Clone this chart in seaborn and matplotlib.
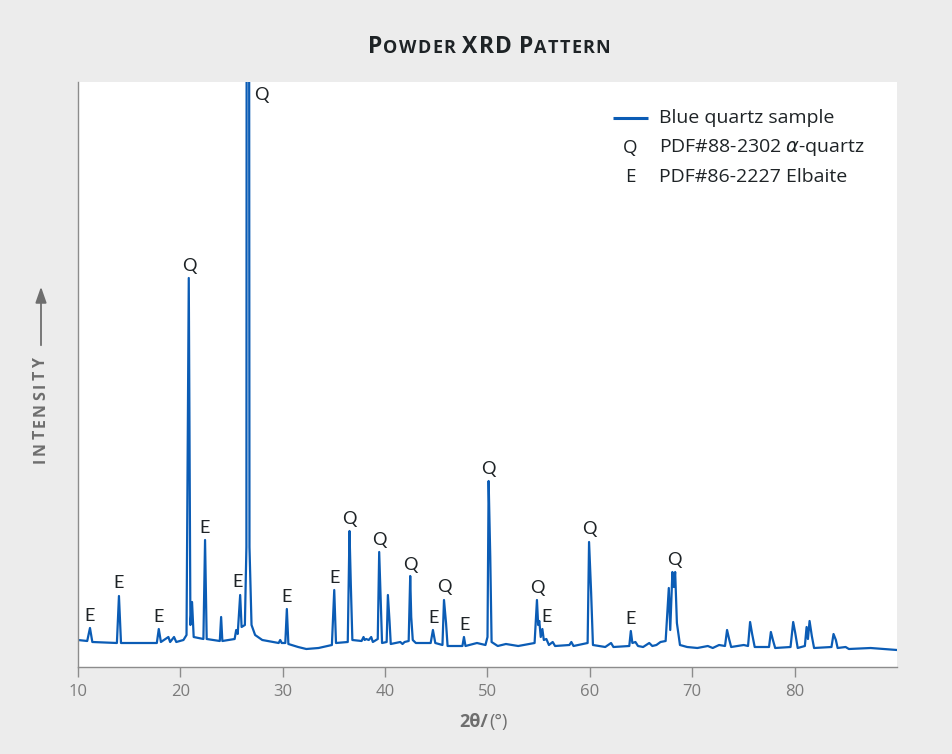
import matplotlib
matplotlib.use("Agg")
import matplotlib.pyplot as plt
import seaborn as sns
import pandas as pd

# ---------------- data ----------------
two_theta = [
    10.0, 10.9, 11.17, 11.4, 13.8, 14.0, 14.2, 17.7, 17.89, 18.1, 18.83, 19.0, 19.38, 19.6,
    20.3, 20.6, 20.82, 20.98, 21.14, 21.3, 22.25, 22.41, 22.57, 23.85, 23.98, 24.1,
    25.3, 25.45, 25.6, 25.84, 25.98, 26.3, 26.45, 26.53, 26.63, 26.75, 26.95, 27.3, 28.0,
    29.6, 29.75, 29.9, 30.25, 30.4, 30.55, 31.5, 32.3, 33.5, 34.8, 35.03, 35.2,
    36.35, 36.52, 36.65, 36.8, 37.7, 37.89, 38.0, 38.15, 38.4, 38.64, 38.8,
    39.28, 39.42, 39.55, 39.7, 40.15, 40.27, 40.43, 40.55, 41.48, 41.7, 41.9,
    42.3, 42.45, 42.55, 42.7, 43.0, 44.45, 44.67, 44.9, 45.6, 45.75, 45.95, 46.1,
    47.55, 47.7, 47.85, 48.97, 49.8, 50.0, 50.11, 50.27, 50.4, 51.0, 51.8, 53.0,
    54.6, 54.83, 54.95, 55.06, 55.2, 55.36, 55.5, 55.75, 56.0, 56.37, 56.6,
    58.0, 58.19, 58.4, 59.78, 59.92, 60.12, 60.3, 61.5, 62.07, 62.3,
    63.85, 64.0, 64.15, 64.45, 64.7, 65.2, 65.8, 66.1, 66.5, 66.9, 67.4,
    67.71, 67.85, 68.06, 68.2, 68.33, 68.5, 68.8, 69.5, 70.5, 71.52, 72.0, 72.62,
    73.2, 73.4, 73.6, 73.8, 75.03, 75.45, 75.65, 75.85, 76.1, 77.5, 77.68, 77.88, 78.1,
    79.6, 79.86, 80.06, 80.3, 81.0, 81.17, 81.3, 81.46, 81.68, 81.9,
    83.6, 83.8, 84.03, 84.2, 84.98, 85.3, 87.42, 90.0,
]
intensity = [
    27, 26, 39, 25, 24, 71, 24, 24, 38, 25, 30, 25, 30, 25,
    27, 32, 389, 42, 65, 30, 28, 127, 28, 26, 50, 26,
    28, 37, 33, 72, 40, 42, 120, 2000, 2000, 120, 42, 32, 27,
    24, 27, 24, 24, 58, 23, 20, 18, 19, 22, 77, 24,
    25, 136, 82, 27, 26, 30, 27, 28, 27, 30, 25,
    28, 115, 72, 24, 25, 72, 46, 23, 25, 23, 25,
    26, 91, 50, 27, 24, 24, 37, 24, 22, 67, 44, 21,
    21, 30, 21, 24, 22, 30, 186, 110, 25, 21, 23, 21,
    24, 67, 42, 46, 30, 38, 27, 28, 22, 25, 21,
    22, 25, 21, 24, 125, 75, 22, 20, 24, 20,
    21, 36, 24, 25, 21, 20, 24, 21, 22, 25, 26,
    79, 37, 95, 80, 95, 44, 22, 20, 19, 21, 19, 22,
    21, 37, 28, 20, 22, 21, 45, 33, 20, 20, 35, 27, 19,
    20, 45, 34, 19, 21, 40, 28, 46, 31, 19,
    20, 33, 27, 19, 20, 18, 19, 17,
]

peak_label_x = [11.17, 14.0, 17.85, 20.85, 22.41, 25.54, 27.95, 30.33, 35.02, 36.49,
                39.42, 42.45, 44.7, 45.78, 47.73, 50.08, 54.87, 55.75, 59.95, 63.96, 68.26]
peak_label_y = [51, 84, 50, 401, 139, 85, 572, 70, 89, 148,
                127, 102, 49, 80, 42, 198, 79, 50, 138, 48, 107]
peak_label_text = ["E", "E", "E", "Q", "E", "E", "Q", "E", "E", "Q",
                   "Q", "Q", "E", "Q", "E", "Q", "Q", "E", "Q", "E", "Q"]

x_ticks = [10, 20, 30, 40, 50, 60, 70, 80]
legend_labels = ["Blue quartz sample", r"PDF#88-2302 $\alpha$-quartz", "PDF#86-2227 Elbaite"]
legend_symbols = ["", "Q", "E"]

# ---------------- style ----------------
W, H = 953, 754
BG = "#ececec"
LINE = "#0b5cb5"
GRAY = "#7b7b7b"
LABGRAY = "#6e6e6e"
DARK = "#1e2326"
SANS = ["Open Sans", "DejaVu Sans"]

sns.set_theme(style="white")
plt.rcParams["font.family"] = SANS
plt.rcParams["mathtext.fontset"] = "dejavusans"

fig = plt.figure(figsize=(W / 100, H / 100), dpi=100, facecolor=BG)
ax = fig.add_axes([78 / W, 1 - 667 / H, (897 - 78) / W, (667 - 82) / H])
ax.set_facecolor("white")

df = pd.DataFrame({"two_theta": two_theta, "intensity": intensity})
sns.lineplot(data=df, x="two_theta", y="intensity", ax=ax, color=LINE,
             linewidth=1.6, sort=False, estimator=None)

ax.set_xlim(10, 90)
ax.set_ylim(0, 585)
ax.set_xticks(x_ticks)
ax.set_yticks([])
ax.set_xlabel("")
ax.set_ylabel("")
for s in ["top", "right"]:
    ax.spines[s].set_visible(False)
for s in ["left", "bottom"]:
    ax.spines[s].set_color("#8c8c8c")
    ax.spines[s].set_linewidth(1.0)
ax.tick_params(axis="x", direction="out", length=7, width=1, color="#8c8c8c",
               labelcolor=GRAY, labelsize=12, pad=5, bottom=True)

for x, y, t in zip(peak_label_x, peak_label_y, peak_label_text):
    ax.text(x, y, t, ha="center", va="center", fontsize=13, color=DARK,
            family=["Lato", "DejaVu Sans"])

# legend (manual, matching the reference layout)
leg_rows_y = [1 - (118 - 82) / 585, 1 - (148 - 82) / 585, 1 - (177 - 82) / 585]
def axx(px):
    return (px - 78) / (897 - 78)
ax.plot([axx(613), axx(648)], [leg_rows_y[0]] * 2, transform=ax.transAxes,
        color=LINE, linewidth=2.2, solid_capstyle="butt")
for i, (lab, sym) in enumerate(zip(legend_labels, legend_symbols)):
    if sym:
        ax.text(axx(630), leg_rows_y[i], sym, transform=ax.transAxes, ha="center",
                va="center", fontsize=13.5, color=DARK)
    ax.text(axx(659), leg_rows_y[i], lab, transform=ax.transAxes, ha="left",
            va="center", fontsize=14, color=DARK)

# x-axis label: bold "2θ/" + regular "(°)"
fig.text(488 / W, 1 - 722 / H, "2θ/", ha="right", va="center", fontsize=13,
         fontweight="bold", color=LABGRAY)
fig.text(489 / W, 1 - 722 / H, "(°)", ha="left", va="center", fontsize=13,
         color=LABGRAY)

renderer = fig.canvas.get_renderer()

# y-axis label (letter-spaced, rotated) with arrow
ylab = "INTENSITY"
ylab_w = []
for ch in ylab:
    tmp = fig.text(0, 0, ch, fontsize=11.5, fontweight="bold")
    ylab_w.append(tmp.get_window_extent(renderer=renderer).width)
    tmp.remove()
span_px = 463 - 358
gap = (span_px - sum(ylab_w)) / (len(ylab) - 1)
ycur = H - 463
for ch, w in zip(ylab, ylab_w):
    fig.text(41 / W, (ycur + w / 2) / H, ch, rotation=90, ha="center", va="center",
             fontsize=11.5, fontweight="bold", color=LABGRAY)
    ycur += w + gap
ax.annotate("", xy=(41 / W, 1 - 284 / H), xytext=(41 / W, 1 - 348 / H),
            xycoords="figure fraction", textcoords="figure fraction",
            arrowprops=dict(arrowstyle="-|>,head_length=0.8,head_width=0.28",
                            color=LABGRAY, lw=1.3), annotation_clip=False)

# title in small caps with slight tracking
segments = [("P", 16.5), ("OWDER", 13), (" ", 13), ("XRD", 16.5), (" ", 13),
            ("P", 16.5), ("ATTERN", 13)]
tracking = 1.2
chars = []
for s, size in segments:
    for ch in s:
        if ch == " ":
            chars.append((None, size * 0.35))
            continue
        t = fig.text(0, 1 - 53 / H, ch, fontsize=size, fontweight="bold", color=DARK,
                     ha="left", va="baseline", family=["Open Sans", "DejaVu Sans"])
        chars.append((t, t.get_window_extent(renderer=renderer).width))
total = sum(w for _, w in chars) + tracking * (len(chars) - 1)
x0 = 489 - total / 2
for t, w in chars:
    if t is not None:
        t.set_x(x0 / W)
    x0 += w + tracking

fig.savefig("out.png", dpi=100, facecolor=BG)
